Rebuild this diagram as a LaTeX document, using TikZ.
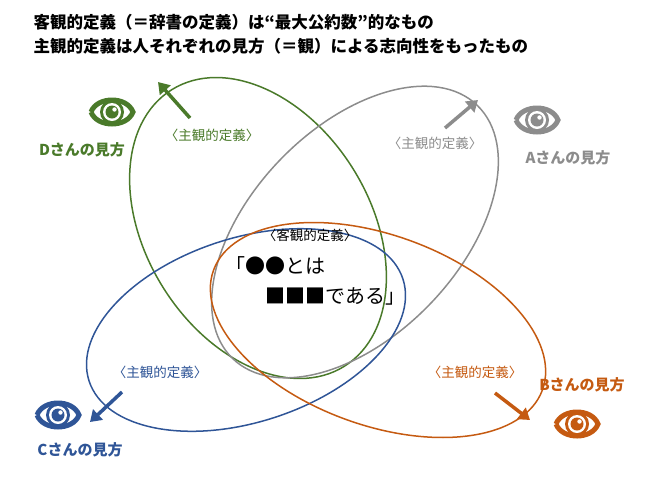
\documentclass[tikz,border=0pt]{standalone}
\usepackage{fontspec}
\setmainfont{Noto Sans CJK JP}
\usetikzlibrary{arrows.meta}
\definecolor{cgreen}{HTML}{4A7A2A}
\definecolor{cgray}{HTML}{8C8C8C}
\definecolor{cblue}{HTML}{2F5597}
\definecolor{corange}{HTML}{C55A11}

\tikzset{
  oval/.style = {draw, line width=1.5pt},
  view/.style = {line width=3.5pt, -{Triangle[length=11pt,width=14pt]}},
  subj/.style = {font=\fontsize{13.5}{15}\selectfont},
  who/.style = {font=\fontsize{15}{17}\selectfont\bfseries},
  eye/.pic = {
    \draw[line width=5pt] (-21,0) .. controls (-15,16) and (15,16) .. (21,0)
      .. controls (15,-16) and (-15,-16) .. (-21,0);
    \fill (0,0) circle (12);
    \fill[white] (0,0) circle (9);
    \fill (0,0) circle (6.5);
    \fill[white] (2.5,2.5) circle (2.2);
  }
}

\begin{document}
\begin{tikzpicture}[x=1pt, y=1pt]
\useasboundingbox (0,0) rectangle (650,-488);

% title
\node[anchor=west, font=\fontsize{16.5}{18}\selectfont\bfseries] (t1) at (30,-22)
  {客観的定義（＝辞書の定義）は“最大公約数”的なもの};
\node[anchor=west, font=\fontsize{16.5}{18}\selectfont\bfseries] (t2) at (30,-46)
  {主観的定義は人それぞれの見方（＝観）による志向性をもったもの};

% views
\draw[oval, cgreen]  (258,-228) ellipse [x radius=163, y radius=112, rotate=-58];
\draw[oval, cgray]   (355,-232) ellipse [x radius=176, y radius=104, rotate=46];
\draw[oval, cblue]   (246,-330) ellipse [x radius=165, y radius=92, rotate=18];
\draw[oval, corange] (378,-330) ellipse [x radius=175, y radius=95, rotate=-20];

% arrows
\coordinate (gs) at (190,-118); \coordinate (ge) at (158,-82);
\coordinate (as) at (445,-128); \coordinate (ae) at (478,-100);
\coordinate (cs) at (122,-392); \coordinate (ce) at (90,-422);
\coordinate (bs) at (495,-393); \coordinate (be) at (530,-420);
\draw[view, cgreen] (gs) -- (ge);
\draw[view, cgray] (as) -- (ae);
\draw[view, cblue] (cs) -- (ce);
\draw[view, corange] (bs) -- (be);

% labels
\node[subj, cgreen] (lg) at (212,-135) {〈主観的定義〉};
\node[subj, cgray] (la) at (435,-143) {〈主観的定義〉};
\node[subj, cblue] (lc) at (160,-372) {〈主観的定義〉};
\node[subj, corange] (lb) at (475,-372) {〈主観的定義〉};
\node[subj] (lo) at (310,-235) {〈客観的定義〉};
\node[anchor=west, font=\fontsize{20}{22}\selectfont] (m1) at (222,-266) {「●●とは};
\node[anchor=west, font=\fontsize{20}{22}\selectfont] (m2) at (262,-296) {■■■である」};

% eyes
\pic[cgreen] at (112,-112) {eye};
\pic[cgray] at (537,-120) {eye};
\pic[cblue] at (58,-415) {eye};
\pic[corange] at (577,-424) {eye};
\node[who, cgreen] (wd) at (82,-150) {Dさんの見方};
\node[who, cgray] (wa) at (568,-158) {Aさんの見方};
\node[who, cblue] (wc) at (80,-450) {Cさんの見方};
\node[who, corange] (wb) at (582,-385) {Bさんの見方};
\end{tikzpicture}
\end{document}
